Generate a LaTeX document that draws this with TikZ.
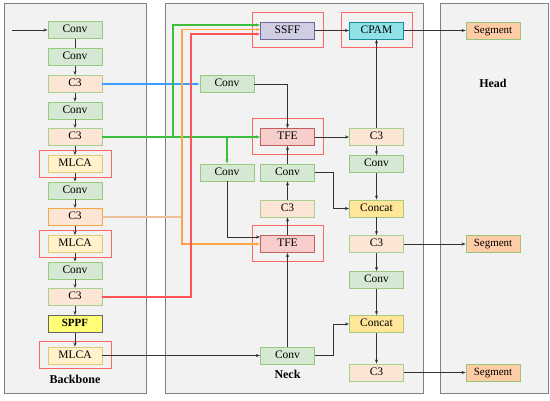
\documentclass[tikz,border=0pt]{standalone}
\usepackage{fontspec}
\setmainfont{Liberation Serif}
\usetikzlibrary{arrows.meta}
\definecolor{panelfill}{HTML}{F2F2F2}
\definecolor{paneldraw}{HTML}{808080}
\definecolor{convfill}{HTML}{D5E8D4}
\definecolor{convdraw}{HTML}{97C97F}
\definecolor{cthreefill}{HTML}{FDE5D5}
\definecolor{cthreedraw}{HTML}{A9D18E}
\definecolor{orgdraw}{HTML}{F5A742}
\definecolor{mlcafill}{HTML}{FFF2CC}
\definecolor{mlcadraw}{HTML}{E3C874}
\definecolor{sppffill}{HTML}{FFFF77}
\definecolor{sppfdraw}{HTML}{666666}
\definecolor{concatfill}{HTML}{FFE699}
\definecolor{concatdraw}{HTML}{A5C97F}
\definecolor{segfill}{HTML}{FFCCA6}
\definecolor{segdraw}{HTML}{97C57C}
\definecolor{tfefill}{HTML}{F8CECC}
\definecolor{tfedraw}{HTML}{C0605C}
\definecolor{ssfffill}{HTML}{D0CEE2}
\definecolor{ssffdraw}{HTML}{6E6A96}
\definecolor{cpamfill}{HTML}{90E2E8}
\definecolor{cpamdraw}{HTML}{1A8C94}
\definecolor{redbox}{HTML}{FF6666}
\definecolor{lnk}{HTML}{333333}
\definecolor{gline}{HTML}{3DBE3D}
\definecolor{oline}{HTML}{FFA544}
\definecolor{rline}{HTML}{FF5555}
\definecolor{bline}{HTML}{3D9CFF}
\definecolor{tanline}{HTML}{EBC09A}
\tikzset{
  blk/.style={minimum width=54pt, minimum height=17pt, inner sep=0pt, line width=0.9pt,
    text height=7.6pt, text depth=2.2pt, font=\fontsize{11.5}{13}\selectfont},
  conv/.style={blk, fill=convfill, draw=convdraw},
  cthree/.style={blk, fill=cthreefill, draw=cthreedraw},
  cthreeo/.style={blk, fill=cthreefill, draw=orgdraw},
  mlca/.style={blk, fill=mlcafill, draw=mlcadraw},
  sppf/.style={blk, fill=sppffill, draw=sppfdraw, font=\fontsize{11}{13}\selectfont\bfseries},
  concat/.style={blk, fill=concatfill, draw=concatdraw},
  seg/.style={blk, fill=segfill, draw=segdraw, font=\fontsize{11}{13}\selectfont},
  tfe/.style={blk, fill=tfefill, draw=tfedraw},
  ssff/.style={blk, fill=ssfffill, draw=ssffdraw},
  cpam/.style={blk, fill=cpamfill, draw=cpamdraw},
  redframe/.style={draw=redbox, line width=1pt, fill=none, inner sep=0pt},
  panel/.style={fill=panelfill, draw=paneldraw, line width=1pt},
  lbl/.style={font=\fontsize{12}{14}\selectfont\bfseries},
  con/.style={color=lnk, line width=0.9pt},
  tip/.style={-{Stealth[length=4pt,width=3pt]}},
  arr/.style={con, tip},
  garr/.style={color=gline, line width=1.3pt, tip},
  oarr/.style={color=oline, line width=1.3pt, tip},
  rarr/.style={color=rline, line width=1.3pt, tip},
  barr/.style={color=bline, line width=1.3pt, tip},
}
\begin{document}
\begin{tikzpicture}[x=1pt,y=-1pt]
\useasboundingbox (0,0) rectangle (550,401);
% panels
\draw[panel] (4,4) rectangle (146,394);
\draw[panel] (165,4) rectangle (423,394);
\draw[panel] (440,4) rectangle (548,394);
\node[lbl] (lbb) at (75,379) {Backbone};
\node[lbl] (lneck) at (287.5,374) {Neck};
\node[lbl] (lhead) at (493,83) {Head};
% red frames
\node[redframe, minimum width=72pt, minimum height=27pt] (f1) at (75,164) {};
\node[redframe, minimum width=72pt, minimum height=27pt] (f2) at (75,244) {};
\node[redframe, minimum width=72pt, minimum height=27pt] (f3) at (75,355.5) {};
\node[redframe, minimum width=71pt, minimum height=35pt] (f4) at (287.5,30.5) {};
\node[redframe, minimum width=71pt, minimum height=35pt] (f5) at (376.5,30.5) {};
\node[redframe, minimum width=71pt, minimum height=36pt] (f6) at (287.5,137) {};
\node[redframe, minimum width=71pt, minimum height=36pt] (f7) at (287.5,244) {};
% backbone
\node[conv] (b1) at (75,30) {Conv};
\node[conv] (b2) at (75,57) {Conv};
\node[cthree] (b3) at (75,84) {C3};
\node[conv] (b4) at (75,110.5) {Conv};
\node[cthree] (b5) at (75,137) {C3};
\node[mlca] (b6) at (75,164) {MLCA};
\node[conv] (b7) at (75,190.5) {Conv};
\node[cthreeo] (b8) at (75,217) {C3};
\node[mlca] (b9) at (75,244) {MLCA};
\node[conv] (b10) at (75,270.5) {Conv};
\node[cthree] (b11) at (75,297) {C3};
\node[sppf] (b12) at (75,324) {SPPF};
\node[mlca] (b13) at (75,355.5) {MLCA};
% neck
\node[ssff] (ssff) at (287.5,30.5) {SSFF};
\node[cpam] (cpam) at (376.5,30.5) {CPAM};
\node[conv] (nconv1) at (227,84) {Conv};
\node[tfe] (tfe1) at (287.5,137) {TFE};
\node[cthree] (nc3a) at (376.5,137) {C3};
\node[conv] (nconvL) at (227,172.5) {Conv};
\node[conv] (nconvM) at (287.5,172.5) {Conv};
\node[conv] (nconvR) at (376.5,164) {Conv};
\node[cthree] (nc3m) at (287.5,208.5) {C3};
\node[concat] (concat1) at (376.5,208.5) {Concat};
\node[tfe] (tfe2) at (287.5,244) {TFE};
\node[cthree] (nc3b) at (376.5,244) {C3};
\node[conv] (nconvR2) at (376.5,280) {Conv};
\node[concat] (concat2) at (376.5,324) {Concat};
\node[conv] (nconvB) at (287.5,355.5) {Conv};
\node[cthree] (nc3c) at (376.5,372.5) {C3};
% head
\node[seg] (seg1) at (493,30.5) {Segment};
\node[seg] (seg2) at (493,244) {Segment};
\node[seg] (seg3) at (493,372.5) {Segment};
% coordinates
\coordinate (inp) at (12,30);
\coordinate (gj) at (173,137);
\coordinate (gd) at (227,137);
\coordinate (oj) at (182,217);
\coordinate (rj) at (191,297);
% backbone chain
\draw[arr] (inp) -- (b1.west);
\draw[con] (b1) -- (b2);
\draw[arr] (b2) -- (b3);
\draw[arr] (b3) -- (b4);
\draw[arr] (b4) -- (b5);
\draw[arr] (b5) -- (b6);
\draw[arr] (b6) -- (b7);
\draw[arr] (b7) -- (b8);
\draw[arr] (b8) -- (b9);
\draw[arr] (b9) -- (b10);
\draw[arr] (b10) -- (b11);
\draw[arr] (b11) -- (b12);
\draw[arr] (b12) -- (b13);
% coloured skip links
\draw[barr] (b3.east) -- (nconv1.west);
\draw[garr] (b5.east) -- (tfe1.west);
\draw[garr] (gj) |- ([yshift=5.5pt]ssff.west);
\draw[garr] (gd) -- (nconvL.north);
\draw[color=tanline, line width=1.2pt] (b8.east) -- (oj);
\draw[oarr] (oj) |- ([yshift=1pt]ssff.west);
\draw[oarr] (oj) |- (tfe2.west);
\draw[rarr] (b11.east) -- (rj) |- ([yshift=-3.5pt]ssff.west);
\draw[arr] (b13.east) -- (nconvB.west);
% neck links
\draw[arr] (nconv1.east) -| (tfe1.north);
\draw[arr] (nconvL.south) |- ([yshift=7pt]tfe2.west);
\draw[arr] (nconvM.north) -- (tfe1.south);
\draw[arr] (nc3m.north) -- (nconvM.south);
\draw[arr] (tfe2.north) -- (nc3m.south);
\draw[arr] (nconvB.north) -- (tfe2.south);
\draw[arr] (nconvM.east) -- ++(18,0) |- (concat1.west);
\draw[arr] (nconvB.east) -- ++(18,0) |- (concat2.west);
\draw[arr] (tfe1.east) -- (nc3a.west);
\draw[arr] (nc3a.north) -- (cpam.south);
\draw[arr] (nc3a.south) -- (nconvR.north);
\draw[arr] (nconvR.south) -- (concat1.north);
\draw[arr] (concat1.south) -- (nc3b.north);
\draw[arr] (nc3b.south) -- (nconvR2.north);
\draw[arr] (nconvR2.south) -- (concat2.north);
\draw[arr] (concat2.south) -- (nc3c.north);
\draw[arr] (ssff.east) -- (cpam.west);
% head links
\draw[arr] (cpam.east) -- (seg1.west);
\draw[arr] (nc3b.east) -- (seg2.west);
\draw[arr] (nc3c.east) -- (seg3.west);
\end{tikzpicture}
\end{document}
